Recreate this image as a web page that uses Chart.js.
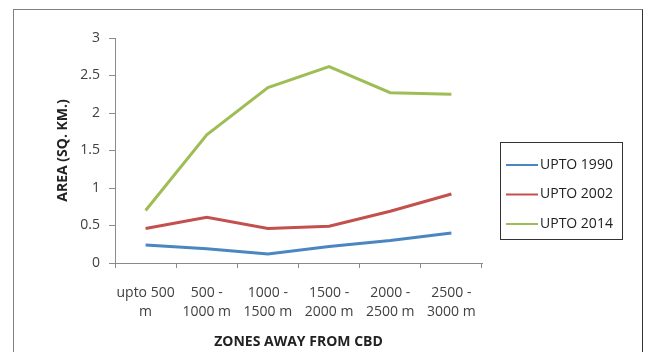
<!DOCTYPE html>
<html>
<head>
<meta charset="utf-8">
<script src="https://cdn.jsdelivr.net/npm/chart.js@4/dist/chart.umd.min.js"></script>
<style>
    html, body { margin: 0; padding: 0; background: #fff; }
    .wrap { position: relative; width: 653px; height: 352px; overflow: hidden; }
    .frame { position: absolute; left: 13px; top: 9px; width: 628px; height: 360px; border: 1px solid #808080; border-right-color: #333; }
    canvas { position: absolute; left: 0; top: 0; }
</style>
</head>
<body>
<div class="wrap">
    <div class="frame"></div>
    <canvas id="chart" width="653" height="352"></canvas>
</div>
<script>
const zones = [
    ['upto 500', 'm'],
    ['500 -', '1000 m'],
    ['1000 -', '1500 m'],
    ['1500 -', '2000 m'],
    ['2000 -', '2500 m'],
    ['2500 -', '3000 m']
];
const upto1990 = [0.24, 0.19, 0.12, 0.22, 0.30, 0.40];
const upto2002 = [0.46, 0.61, 0.46, 0.49, 0.69, 0.92];
const upto2014 = [0.70, 1.71, 2.34, 2.62, 2.27, 2.25];
const yTicks = [0, 0.5, 1, 1.5, 2, 2.5, 3];

const series = [
    { label: 'UPTO 1990', data: upto1990, color: '#4a86c0' },
    { label: 'UPTO 2002', data: upto2002, color: '#c4504d' },
    { label: 'UPTO 2014', data: upto2014, color: '#9fbd55' }
];

const FONT = "'Open Sans', 'DejaVu Sans', sans-serif";
const AXIS = '#8a8a8a';

// boxed legend on the right, like the spreadsheet original
const boxLegend = {
    id: 'boxLegend',
    afterDraw(chart) {
        const ctx = chart.ctx;
        const x = 500, y = 142, w = 122, h = 97;
        ctx.save();
        ctx.fillStyle = '#fff';
        ctx.fillRect(x, y, w, h);
        ctx.strokeStyle = '#333';
        ctx.lineWidth = 1;
        ctx.strokeRect(x + 0.5, y + 0.5, w, h);
        ctx.font = '14px ' + FONT;
        ctx.textBaseline = 'middle';
        chart.data.datasets.forEach((ds, i) => {
            const cy = y + 23 + i * 29.5;
            ctx.strokeStyle = ds.borderColor;
            ctx.lineWidth = 2;
            ctx.beginPath();
            ctx.moveTo(x + 6, cy);
            ctx.lineTo(x + 38, cy);
            ctx.stroke();
            ctx.fillStyle = '#222';
            ctx.fillText(ds.label, x + 40, cy);
        });
        ctx.restore();
    }
};

new Chart(document.getElementById('chart'), {
    type: 'line',
    data: {
        labels: zones,
        datasets: series.map((s) => ({
            label: s.label,
            data: s.data,
            borderColor: s.color,
            backgroundColor: s.color,
            borderWidth: 3,
            pointRadius: 0,
            tension: 0
        }))
    },
    options: {
        responsive: false,
        animation: false,
        layout: { padding: { left: 52, right: 171, top: 38, bottom: 0 } },
        plugins: {
            legend: { display: false },
            tooltip: { enabled: false }
        },
        scales: {
            x: {
                offset: true,
                afterFit: (scale) => { scale.height = 89; },
                grid: { display: true, offset: true, drawOnChartArea: false, drawTicks: true, tickLength: 5, color: AXIS },
                border: { color: AXIS, width: 1 },
                ticks: { color: '#404040', font: { family: FONT, size: 14, lineHeight: 1.35 }, padding: 16, maxRotation: 0, autoSkip: false },
                title: { display: true, text: 'ZONES AWAY FROM CBD', color: '#222', font: { family: FONT, size: 14, weight: 'bold' }, padding: 2 }
            },
            y: {
                min: 0,
                max: 3,
                afterFit: (scale) => { scale.width = 63; },
                afterBuildTicks: (scale) => { scale.ticks = yTicks.map((v) => ({ value: v })); },
                grid: { display: true, drawOnChartArea: false, drawTicks: true, tickLength: 6, color: AXIS },
                border: { color: AXIS, width: 1 },
                ticks: { color: '#404040', font: { family: FONT, size: 14 }, padding: 9, callback: (v) => String(v) },
                title: { display: true, text: 'AREA (SQ. KM.)', color: '#222', font: { family: FONT, size: 14, weight: 'bold' }, padding: 3 }
            }
        }
    },
    plugins: [boxLegend]
});
</script>
</body>
</html>
